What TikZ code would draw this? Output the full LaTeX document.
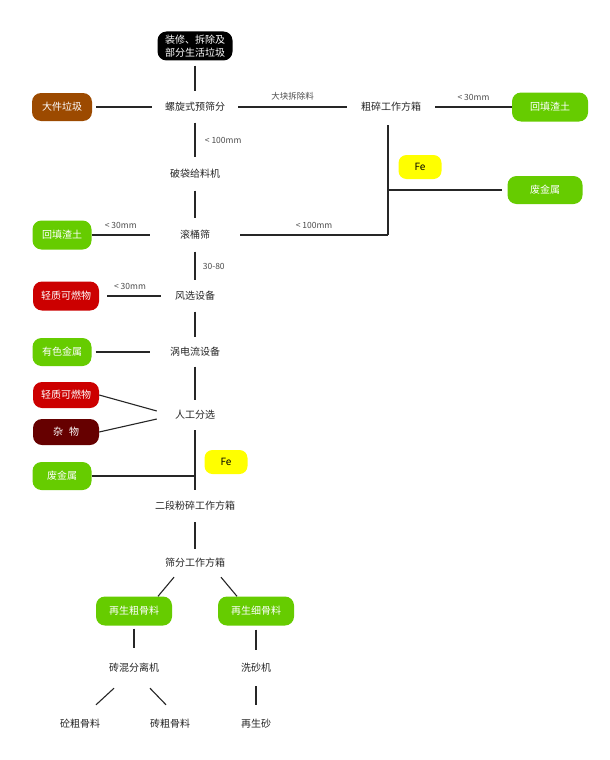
\documentclass[tikz,border=0pt]{standalone}
\usepackage{fontspec}
\setmainfont{Noto Sans CJK SC}
\definecolor{leafgreen}{HTML}{66CC00}
\definecolor{rustbrown}{HTML}{9C4A00}
\definecolor{firered}{HTML}{CC0000}
\definecolor{winered}{HTML}{660000}
\definecolor{feyellow}{HTML}{FFFF00}
\begin{document}
\begin{tikzpicture}[x=1pt, y=-1pt,
        every node/.style={font=\fontsize{10}{12.5}\selectfont, text=black!85},
        stage/.style={inner sep=0pt, minimum height=31pt},
        pill/.style={rounded corners=9pt, inner sep=0pt, minimum width=59pt, minimum height=28pt, text=white},
        fetag/.style={rounded corners=8pt, fill=feyellow, inner sep=0pt, minimum width=43pt, minimum height=24pt, text=black},
        tag/.style={font=\fontsize{8.5}{9}\selectfont, text=black!70},
        link/.style={line width=1.1pt, draw=black!85}]
        \fill[white] (0,0) rectangle (610,760);
        \useasboundingbox (0,0) rectangle (610,760);

        % main line
        \node[pill, fill=black, align=center, minimum width=75pt, minimum height=29pt] (src) at (195,46) {装修、拆除及\\部分生活垃圾};
        \node[stage, minimum width=86pt] (spiral) at (195,107) {螺旋式预筛分};
        \node[stage, minimum width=88pt, minimum height=36pt] (coarse) at (391,107) {粗碎工作方箱};
        \node[stage, minimum height=33pt] (bag) at (195,174) {破袋给料机};
        \node[stage, minimum width=90pt, minimum height=33pt] (tumbler) at (195,235) {滚桶筛};
        \node[stage, minimum width=68pt] (air) at (195,296) {风选设备};
        \node[stage, minimum width=90pt, minimum height=29pt] (eddy) at (195,352) {涡电流设备};
        \node[stage, minimum width=76pt, minimum height=30pt] (hand) at (195,415) {人工分选};
        \node[stage, minimum height=32pt] (second) at (195,506) {二段粉碎工作方箱};
        \node[stage, minimum width=60pt, minimum height=28pt] (screen) at (195,563) {筛分工作方箱};
        \node[stage, minimum height=40pt] (sorter) at (134,668) {砖混分离机};
        \node[stage, minimum height=36pt] (washer) at (256,668) {洗砂机};
        \node[stage, minimum height=38pt] (concrete) at (80,724) {砼粗骨料};
        \node[stage, minimum height=38pt] (brick) at (170,724) {砖粗骨料};
        \node[stage, minimum height=38pt] (sand) at (256,724) {再生砂};

        % side outputs
        \node[pill, fill=rustbrown, minimum width=60pt] (bulky) at (62,107) {大件垃圾};
        \node[pill, fill=leafgreen, minimum width=76pt, minimum height=29pt] (fillR) at (550,107) {回填渣土};
        \node[fetag] (feR) at (420,167) {Fe};
        \node[pill, fill=leafgreen, minimum width=75pt] (scrapR) at (545,190) {废金属};
        \node[pill, fill=leafgreen, minimum height=29pt] (fillL) at (62,235) {回填渣土};
        \node[pill, fill=firered, minimum width=66pt, minimum height=29pt] (lightA) at (66,296) {轻质可燃物};
        \node[pill, fill=leafgreen] (nonferrous) at (62,352) {有色金属};
        \node[pill, fill=firered, minimum width=66pt, minimum height=26pt] (lightB) at (66,395) {轻质可燃物};
        \node[pill, fill=winered, minimum width=66pt, minimum height=26pt] (misc) at (66,432) {杂\hspace{0.6em}物};
        \node[pill, fill=leafgreen] (scrapL) at (62,476) {废金属};
        \node[fetag] (feL) at (226,462) {Fe};
        \node[pill, fill=leafgreen, minimum width=76pt, minimum height=29pt] (coarseagg) at (134,611) {再生粗骨料};
        \node[pill, fill=leafgreen, minimum width=76pt, minimum height=29pt] (fineagg) at (256,611) {再生细骨料};

        \coordinate (j1) at (388,235);

        \draw[link, shorten <=5pt] (src) -- (spiral);
        \draw[link, shorten <=4pt] (bulky) -- (spiral);
        \draw[link] (spiral) -- (coarse) node[tag, midway, above=3pt] {大块拆除料};
        \draw[link] (coarse) -- (fillR) node[tag, midway, above=3pt] {< 30mm};
        \draw[link] (j1 |- coarse.south) -- (j1);
        \draw[link, shorten >=5pt] (j1 |- scrapR) -- (scrapR);
        \draw[link] (spiral) -- (bag) node[tag, midway, right=6pt] {< 100mm};
        \draw[link] (bag) -- (tumbler);
        \draw[link] (tumbler) -- (j1) node[tag, midway, above=3pt] {< 100mm};
        \draw[link] (fillL) -- (tumbler) node[tag, midway, above=3pt] {< 30mm};
        \draw[link] (tumbler) -- (air) node[tag, midway, right=4pt] {30-80};
        \draw[link, shorten <=8pt] (lightA) -- (air) node[tag, midway, above=3pt] {< 30mm};
        \draw[link] (air) -- (eddy);
        \draw[link, shorten <=4pt] (nonferrous) -- (eddy);
        \draw[link] (eddy) -- (hand);
        \draw[link] (lightB.east) -- (hand.174);
        \draw[link] (misc.east) -- (hand.186);
        \draw[link] (hand) -- (second);
        \draw[link] (scrapL) -- (hand.south |- scrapL);
        \draw[link] (second) -- (screen);
        \draw[link] ([xshift=-21pt]screen.south) -- ([xshift=24pt]coarseagg.north);
        \draw[link] ([xshift=26pt]screen.south) -- ([xshift=-19pt]fineagg.north);
        \draw[link, shorten <=3pt] (coarseagg) -- (sorter);
        \draw[link, shorten <=4pt] (fineagg) -- (washer);
        \draw[link] ([xshift=-20pt]sorter.south) -- ([xshift=16pt]concrete.north);
        \draw[link] ([xshift=16pt]sorter.south) -- ([xshift=-4pt]brick.north);
        \draw[link] (washer) -- (sand);
\end{tikzpicture}
\end{document}
